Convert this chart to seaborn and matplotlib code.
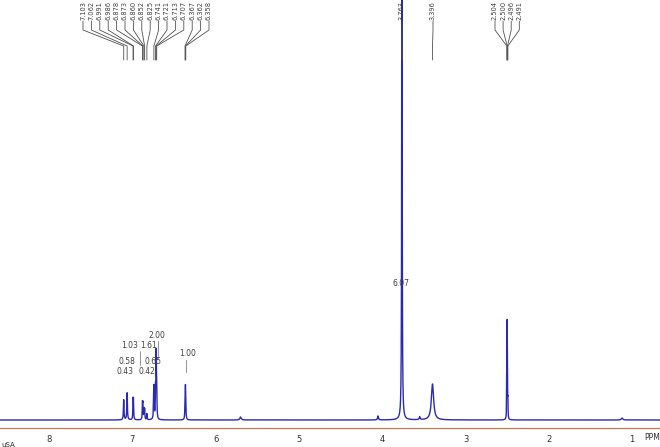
import numpy as np
import pandas as pd
import matplotlib
matplotlib.use("Agg")
import matplotlib.pyplot as plt
import matplotlib.transforms as mtransforms
import seaborn as sns

# ---------------- data ----------------
# peak list (ppm), peak heights (arbitrary units), half widths (ppm)
peak_ppm = [7.103, 7.062, 6.991, 6.986, 6.878, 6.873, 6.860, 6.852, 6.825,
            6.741, 6.721, 6.713, 6.707, 6.367, 6.362, 6.358,
            5.700, 4.050, 3.763, 3.550, 3.396,
            2.504, 2.500, 2.496, 2.491, 1.120]
peak_height = [20, 27, 18, 17, 15, 14, 10, 10, 6,
               34, 28, 62, 28, 12, 28, 12,
               3, 4, 650, 3, 36,
               45, 85, 45, 15, 2]
peak_hw = [0.004, 0.004, 0.003, 0.003, 0.003, 0.003, 0.003, 0.003, 0.003,
           0.004, 0.003, 0.003, 0.003, 0.003, 0.003, 0.003,
           0.010, 0.006, 0.003, 0.006, 0.016,
           0.0018, 0.0018, 0.0018, 0.0018, 0.010]

# peak annotation labels at the top
label_group_arom = [7.103, 7.062, 6.991, 6.986, 6.878, 6.873, 6.860, 6.852,
                    6.825, 6.741, 6.721, 6.713, 6.707, 6.367, 6.362, 6.358]
label_group_ome = [3.763]
label_group_water = [3.396]
label_group_dmso = [2.504, 2.500, 2.496, 2.491]

# integrals: text and ppm position
integral_text = ["1.03", "1.61", "0.58", "0.65", "0.43", "0.42", "2.00", "1.00", "6.07"]
integral_ppm = [7.028, 6.800, 7.064, 6.752, 7.088, 6.824, 6.704, 6.331, 3.774]

tick_values = [8, 7, 6, 5, 4, 3, 2, 1]

# ---------------- layout ----------------
W, H = 660, 447
px_per_ppm = 83.3
ppm_at_left = 8 + 49 / px_per_ppm
ppm_at_right = ppm_at_left - W / px_per_ppm
axis_pix_y = 428          # pixel row of axis line (from top)
baseline_pix = 420
integral_y = [346, 346, 361, 361, 372, 372, 335, 354, 284]   # pixel rows of integral labels

def ppm_of_pix(x):
    return ppm_at_left - x / px_per_ppm

def yfrac(ypix):
    return (axis_pix_y - ypix) / axis_pix_y

# ---------------- spectrum ----------------
x = np.linspace(ppm_at_right, ppm_at_left, 40000)
y = np.zeros_like(x)
for c, h, w in zip(peak_ppm, peak_height, peak_hw):
    y += h * w**2 / ((x - c) ** 2 + w**2)
df = pd.DataFrame({"ppm": x, "intensity": y})

sns.set_theme(style="white")
plt.rcParams["font.family"] = ["DejaVu Sans"]

fig = plt.figure(figsize=(W / 100, H / 100), dpi=100)
ax = fig.add_axes([0, (H - axis_pix_y) / H, 1, axis_pix_y / H])
ax.patch.set_alpha(0)

sns.lineplot(data=df, x="ppm", y="intensity", ax=ax, color="#2a2ab0",
             linewidth=1.0, estimator=None, sort=False)

ax.set_xlim(ppm_at_left, ppm_at_right)
ax.set_ylim(-(axis_pix_y - baseline_pix), baseline_pix)
ax.set_xlabel("")
ax.set_ylabel("")
ax.set_yticks([])
for s in ["left", "right", "top"]:
    ax.spines[s].set_visible(False)
ax.spines["bottom"].set_color("#c8784e")
ax.spines["bottom"].set_linewidth(0.9)
ax.set_xticks(tick_values)
ax.set_xticklabels([str(t) for t in tick_values])
ax.set_xticks(np.arange(1.0, 8.6, 0.1), minor=True)
ax.tick_params(axis="x", which="major", direction="inout", length=4, width=0.6,
               color="#707070", labelsize=6, labelcolor="#303030", pad=3)
ax.tick_params(axis="x", which="minor", direction="inout", length=2, width=0.5,
               color="#909090")
fig.text(652 / W, 1 - 437 / H, "PPM", fontsize=5.5, color="#303030",
         ha="center", va="center")
fig.text(0.002, 1 - 445 / H, "uSA", fontsize=5, color="#303030",
         ha="left", va="center")

# ---------------- top peak labels ----------------
trans = mtransforms.blended_transform_factory(ax.transData, ax.transAxes)
line_color = "#505050"

def draw_group(peaks, first_pix, spacing_pix):
    for i, p in enumerate(peaks):
        lx = ppm_of_pix(first_pix + i * spacing_pix)
        ax.text(lx, yfrac(1), f"{p:.3f}", rotation=90, ha="center", va="top",
                fontsize=4.8, color="#404040", transform=trans)
        ax.plot([lx, lx, p, p], [yfrac(21), yfrac(30), yfrac(46), yfrac(60)],
                color=line_color, linewidth=0.6, transform=trans, clip_on=False)

draw_group(label_group_arom, 83, 8.4)
draw_group(label_group_ome, 402, 0)
draw_group(label_group_water, 433, 0)
draw_group(label_group_dmso, 495, 8.1)

# ---------------- integral labels ----------------
for t, p, yp in zip(integral_text, integral_ppm, integral_y):
    ax.text(p, baseline_pix - yp, t, fontsize=5.5, color="#404040",
            ha="center", va="center")
for xp, y0, y1 in [(158, 341, 358), (186, 360, 372), (140, 351, 365)]:
    p = ppm_of_pix(xp)
    ax.plot([p, p], [baseline_pix - y0, baseline_pix - y1],
            color="#808080", linewidth=0.6)

fig.savefig("out.png", dpi=100)
